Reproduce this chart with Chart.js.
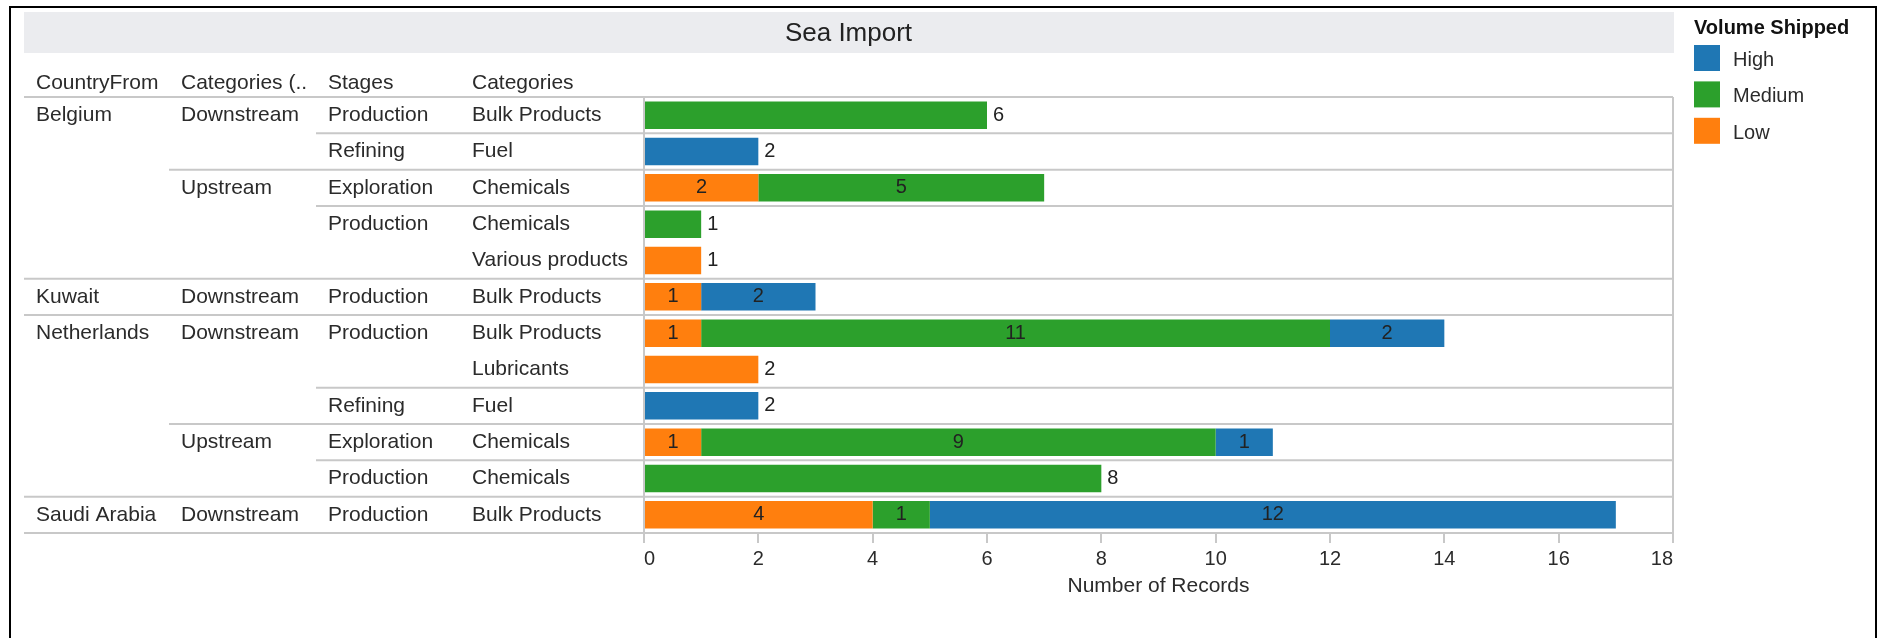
<!DOCTYPE html>
<html>
<head>
<meta charset="utf-8">
<title>Sea Import</title>
<script src="https://cdn.jsdelivr.net/npm/chart.js@4.4.1/dist/chart.umd.min.js"></script>
<style>
  html, body { margin: 0; padding: 0; background: #ffffff; }
  #wrap { width: 1885px; height: 638px; position: relative; }
</style>
</head>
<body>
<div id="wrap"><canvas id="c" width="1885" height="638"></canvas></div>
<script>
// Row hierarchy (one entry per bar row)
const countryFrom = ['Belgium', 'Belgium', 'Belgium', 'Belgium', 'Belgium', 'Kuwait',
  'Netherlands', 'Netherlands', 'Netherlands', 'Netherlands', 'Netherlands', 'Saudi Arabia'];
const categoryGroups = ['Downstream', 'Downstream', 'Upstream', 'Upstream', 'Upstream', 'Downstream',
  'Downstream', 'Downstream', 'Downstream', 'Upstream', 'Upstream', 'Downstream'];
const stages = ['Production', 'Refining', 'Exploration', 'Production', 'Production', 'Production',
  'Production', 'Production', 'Refining', 'Exploration', 'Production', 'Production'];
const categories = ['Bulk Products', 'Fuel', 'Chemicals', 'Chemicals', 'Various products', 'Bulk Products',
  'Bulk Products', 'Lubricants', 'Fuel', 'Chemicals', 'Chemicals', 'Bulk Products'];

// Number of records per volume class
const lowValues    = [null, null, 2, null, 1, 1, 1, 2, null, 1, null, 4];
const mediumValues = [6, null, 5, 1, null, null, 11, null, null, 9, 8, 1];
const highValues   = [null, 2, null, null, null, 2, 2, null, 2, 1, null, 12];

const columnHeaders = ['CountryFrom', 'Categories (..', 'Stages', 'Categories'];
const chartTitle = 'Sea Import';
const axisTitle = 'Number of Records';
const legendTitle = 'Volume Shipped';
const xMin = 0, xMax = 18, xStep = 2;

const FONT = "'Liberation Sans', Arial, sans-serif";
const TEXT = '#2b2b2b';
const RULE = '#c8c8c8';
const COLUMN_X = [36, 181, 328, 472];
const TABLE_LEFT = 24;

const hierarchy = [countryFrom, categoryGroups, stages, categories];

const tablePlugin = {
  id: 'tablePlugin',
  beforeDatasetsDraw(chart) {
    const { ctx, chartArea, scales: { y } } = chart;
    const n = categories.length;
    const rowTop = i => i === 0 ? chartArea.top : (y.getPixelForValue(i - 1) + y.getPixelForValue(i)) / 2;
    ctx.save();

    // outer frame
    ctx.strokeStyle = '#000';
    ctx.lineWidth = 2;
    ctx.beginPath();
    ctx.moveTo(10, 640); ctx.lineTo(10, 7); ctx.lineTo(1876, 7); ctx.lineTo(1876, 640);
    ctx.stroke();

    // title band
    ctx.fillStyle = '#ebecef';
    ctx.fillRect(TABLE_LEFT, 12, chartArea.right - TABLE_LEFT + 1, 41);
    ctx.fillStyle = '#222';
    ctx.font = `26px ${FONT}`;
    ctx.textAlign = 'center';
    ctx.textBaseline = 'middle';
    ctx.fillText(chartTitle, (TABLE_LEFT + chartArea.right) / 2, 34);

    // column headers
    ctx.font = `21px ${FONT}`;
    ctx.fillStyle = TEXT;
    ctx.textAlign = 'left';
    columnHeaders.forEach((h, c) => ctx.fillText(h, COLUMN_X[c], 83));

    // row separators: a rule starts at the outermost level that changes
    ctx.strokeStyle = RULE;
    ctx.lineWidth = 2;
    for (let i = 0; i <= n; i++) {
      let level = -1;
      if (i === 0 || i === n) level = 0;
      else {
        for (let c = 0; c < 3; c++) {
          const changed = hierarchy.slice(0, c + 1).some(col => col[i] !== col[i - 1]);
          if (changed) { level = c; break; }
        }
      }
      if (level < 0) continue;
      const yy = i === n ? chartArea.bottom : rowTop(i);
      const x0 = level === 0 ? TABLE_LEFT : COLUMN_X[level] - 12;
      ctx.beginPath();
      ctx.moveTo(x0, yy);
      ctx.lineTo(chartArea.right, yy);
      ctx.stroke();
    }
    // plot side rules
    ctx.beginPath();
    ctx.moveTo(chartArea.left, chartArea.top);
    ctx.lineTo(chartArea.left, chartArea.bottom);
    ctx.moveTo(chartArea.right, chartArea.top);
    ctx.lineTo(chartArea.right, chartArea.bottom);
    ctx.stroke();

    // row labels, shown only where the value changes within its parent
    ctx.fillStyle = TEXT;
    ctx.font = `21px ${FONT}`;
    ctx.textAlign = 'left';
    ctx.textBaseline = 'middle';
    for (let i = 0; i < n; i++) {
      const yc = y.getPixelForValue(i);
      for (let c = 0; c < 4; c++) {
        const show = i === 0 || hierarchy.slice(0, c + 1).some(col => col[i] !== col[i - 1]);
        if (show) ctx.fillText(hierarchy[c][i], COLUMN_X[c], yc);
      }
    }

    // legend
    ctx.font = `bold 20px ${FONT}`;
    ctx.fillStyle = '#111';
    ctx.fillText(legendTitle, 1694, 28);
    ctx.font = `20px ${FONT}`;
    const ds = chart.data.datasets.slice().reverse();
    ds.forEach((d, k) => {
      const cy = 58 + k * 36.4;
      ctx.fillStyle = d.backgroundColor;
      ctx.fillRect(1694, cy - 13, 26, 26);
      ctx.fillStyle = TEXT;
      ctx.fillText(d.label, 1733, cy + 2.5);
    });
    ctx.restore();
  },
  afterDatasetsDraw(chart) {
    const { ctx } = chart;
    const metas = chart.data.datasets.map((d, k) => chart.getDatasetMeta(k));
    ctx.save();
    ctx.font = `20px ${FONT}`;
    ctx.fillStyle = '#222';
    ctx.textBaseline = 'middle';
    for (let i = 0; i < categories.length; i++) {
      const parts = chart.data.datasets
        .map((d, k) => ({ v: d.data[i], el: metas[k].data[i] }))
        .filter(p => p.v != null && p.v > 0);
      parts.forEach(p => {
        const { x, base, y } = p.el.getProps(['x', 'base', 'y'], true);
        if (parts.length === 1) {
          ctx.textAlign = 'left';
          ctx.fillText(String(p.v), x + 6, y);
        } else {
          ctx.textAlign = 'center';
          ctx.fillText(String(p.v), (x + base) / 2, y);
        }
      });
    }
    ctx.restore();
  }
};

new Chart(document.getElementById('c'), {
  type: 'bar',
  data: {
    labels: categories,
    datasets: [
      { label: 'Low', data: lowValues, backgroundColor: '#ff7f0e' },
      { label: 'Medium', data: mediumValues, backgroundColor: '#2ca02c' },
      { label: 'High', data: highValues, backgroundColor: '#1f77b4' }
    ]
  },
  options: {
    responsive: false,
    animation: false,
    indexAxis: 'y',
    events: [],
    layout: { padding: { left: 644, right: 1885 - 1673, top: 97, bottom: 35 } },
    datasets: { bar: { categoryPercentage: 1, barPercentage: 0.755, borderWidth: 0 } },
    plugins: { legend: { display: false }, tooltip: { enabled: false } },
    scales: {
      x: {
        stacked: true,
        min: xMin, max: xMax,
        ticks: { stepSize: xStep, align: 'inner', padding: 4, color: TEXT, font: { family: FONT, size: 20 } },
        grid: { drawOnChartArea: false, drawTicks: true, tickLength: 10, color: RULE, lineWidth: 2 },
        border: { display: true, color: RULE, width: 2 },
        title: { display: true, text: axisTitle, color: TEXT, font: { family: FONT, size: 21 }, padding: { top: 4, bottom: 4 } },
        afterFit(s) { s.height = 70; }
      },
      y: { stacked: true, display: false }
    }
  },
  plugins: [tablePlugin]
});
</script>
</body>
</html>
